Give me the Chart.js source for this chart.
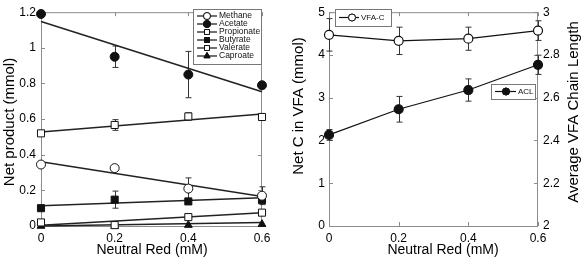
<!DOCTYPE html>
<html>
<head>
<meta charset="utf-8">
<title>Neutral Red</title>
<script src="https://cdn.jsdelivr.net/npm/chart.js"></script>
<style>
    body { margin: 0; padding: 0; background: #fff; }
    #wrap { position: relative; width: 581px; height: 261px; }
    #left { position: absolute; left: 0; top: 0; width: 290px; height: 261px; }
    #right { position: absolute; left: 290px; top: 0; width: 291px; height: 261px; }
</style>
</head>
<body>
<div id="wrap">
    <div id="left"><canvas id="c1"></canvas></div>
    <div id="right"><canvas id="c2"></canvas></div>
</div>
<script>
    const FONT = "'Liberation Sans', Arial, Helvetica, sans-serif";

    // data
    const doses = [0, 0.2, 0.4, 0.6];
    const fitX = [0, 0.6];

    const methane = [0.345, 0.325, 0.21, 0.17];
    const methaneErr = [0, 0.012, 0.06, 0.05];
    const methaneFit = [0.36, 0.165];
    const acetate = [1.19, 0.95, 0.85, 0.79];
    const acetateErr = [0, 0.06, 0.13, 0];
    const acetateFit = [1.148, 0.754];
    const propionate = [0.52, 0.567, 0.615, 0.612];
    const propionateErr = [0, 0.03, 0.02, 0.01];
    const propionateFit = [0.527, 0.628];
    const butyrate = [0.10, 0.148, 0.138, 0.145];
    const butyrateErr = [0, 0.048, 0, 0.01];
    const butyrateFit = [0.113, 0.158];
    const valerate = [0.02, 0.005, 0.05, 0.075];
    const valerateFit = [0.004, 0.075];
    const caproate = [0, 0, 0.005, 0.01];
    const caproateFit = [0, 0.02];

    const vfaC = [4.47, 4.33, 4.38, 4.57];
    const vfaCErr = [0.38, 0.32, 0.27, 0.23];
    const acl = [2.426, 2.546, 2.636, 2.754];
    const aclErr = [0.025, 0.06, 0.052, 0.045];

    const xTicks = [0, 0.2, 0.4, 0.6];
    const productTicks = [0, 0.2, 0.4, 0.6, 0.8, 1, 1.2];
    const carbonTicks = [0, 1, 2, 3, 4, 5];
    const chainTicks = [2, 2.2, 2.4, 2.6, 2.8, 3];

    function pts(vals) { return doses.map((x, i) => ({ x: x, y: vals[i] })); }
    function fitPts(vals) { return fitX.map((x, i) => ({ x: x, y: vals[i] })); }
    function setTicks(list) { return s => { s.ticks = list.map(v => ({ value: v })); }; }

    function markerSet(label, vals, errs, style, filled, r) {
        return {
            label: label, data: pts(vals), errs: errs,
            showLine: false, pointStyle: style, pointRadius: r,
            backgroundColor: filled ? '#111' : '#fff', borderColor: '#111',
            borderWidth: 1, clip: false, order: 0
        };
    }
    function fitSet(vals) {
        return {
            label: '', data: fitPts(vals), showLine: true, pointRadius: 0,
            borderColor: '#222', borderWidth: 1.5, clip: false, order: 1, noLegend: true
        };
    }

    // frame, inward ticks, error bars, legend boxes and titles
    const decor = {
        id: 'decor',
        beforeDatasetsDraw(chart, args, opts) {
            const ctx = chart.ctx, a = chart.chartArea;
            ctx.save();
            ctx.strokeStyle = '#8c8c8c';
            ctx.lineWidth = 1;
            ctx.strokeRect(a.left + 0.5, a.top + 0.5, a.right - a.left - 1, a.bottom - a.top);
            ctx.beginPath();
            chart.scales.x.ticks.forEach(t => {
                const px = Math.round(chart.scales.x.getPixelForValue(t.value)) + 0.5;
                ctx.moveTo(px, a.bottom); ctx.lineTo(px, a.bottom - 4);
                ctx.moveTo(px, a.top); ctx.lineTo(px, a.top + 4);
            });
            const yl = chart.scales.y, yr = chart.scales[opts.rightAxis || 'y'];
            yl.ticks.forEach(t => {
                const py = Math.round(yl.getPixelForValue(t.value)) + 0.5;
                ctx.moveTo(a.left, py); ctx.lineTo(a.left + 4, py);
            });
            yr.ticks.forEach(t => {
                const py = Math.round(yr.getPixelForValue(t.value)) + 0.5;
                ctx.moveTo(a.right, py); ctx.lineTo(a.right - 4, py);
            });
            ctx.stroke();

            ctx.strokeStyle = '#333';
            chart.data.datasets.forEach((ds, di) => {
                if (!ds.errs) return;
                const meta = chart.getDatasetMeta(di);
                const ys = chart.scales[meta.yAxisID];
                meta.data.forEach((p, i) => {
                    const e = ds.errs[i];
                    if (!e) return;
                    const v = ds.data[i].y;
                    const y1 = ys.getPixelForValue(v + e), y2 = ys.getPixelForValue(v - e);
                    const x = Math.round(p.x) + 0.5;
                    ctx.beginPath();
                    ctx.moveTo(x, y1); ctx.lineTo(x, y2);
                    ctx.moveTo(x - 3, y1); ctx.lineTo(x + 3, y1);
                    ctx.moveTo(x - 3, y2); ctx.lineTo(x + 3, y2);
                    ctx.stroke();
                });
            });
            ctx.restore();
        },
        afterDatasetsDraw(chart, args, opts) {
            const ctx = chart.ctx;
            ctx.save();
            (opts.boxes || []).forEach(b => {
                ctx.fillStyle = '#fff';
                ctx.fillRect(b.x0, b.y0, b.x1 - b.x0, b.y1 - b.y0);
                ctx.strokeStyle = '#777';
                ctx.lineWidth = 1;
                ctx.strokeRect(b.x0 + 0.5, b.y0 + 0.5, b.x1 - b.x0, b.y1 - b.y0);
                b.items.forEach((di, k) => {
                    const ds = chart.data.datasets[di];
                    const y = b.rowY + k * b.step;
                    ctx.strokeStyle = '#111';
                    ctx.lineWidth = 1.2;
                    ctx.beginPath();
                    ctx.moveTo(b.lx0, y); ctx.lineTo(b.lx1, y);
                    ctx.stroke();
                    ctx.lineWidth = 1;
                    ctx.fillStyle = ds.backgroundColor;
                    Chart.helpers.drawPoint(ctx, { pointStyle: ds.pointStyle, radius: b.r, borderWidth: 1 }, b.mx, y);
                    ctx.fill();
                    ctx.stroke();
                    ctx.fillStyle = '#111';
                    ctx.font = b.font + 'px ' + FONT;
                    ctx.textBaseline = 'middle';
                    ctx.textAlign = 'left';
                    ctx.fillText(ds.label, b.tx, y);
                });
            });
            ctx.fillStyle = '#000';
            (opts.titles || []).forEach(t => {
                ctx.save();
                ctx.translate(t.x, t.y);
                ctx.rotate(t.rot || 0);
                ctx.font = t.size + 'px ' + FONT;
                ctx.textAlign = 'center';
                ctx.textBaseline = 'middle';
                ctx.fillText(t.text, 0, 0);
                ctx.restore();
            });
            ctx.restore();
        }
    };

    function xScale() {
        return {
            type: 'linear', min: 0, max: 0.6,
            afterBuildTicks: setTicks(xTicks),
            afterFit: s => { s.height = 35; },
            grid: { display: false, drawTicks: false }, border: { display: false },
            ticks: { color: '#000', padding: 5, maxRotation: 0, font: { family: FONT, size: 12 }, callback: v => String(v) }
        };
    }
    function yScale(min, max, list, width, pos, pad) {
        return {
            type: 'linear', min: min, max: max, position: pos,
            afterBuildTicks: setTicks(list),
            afterFit: s => { s.width = width; },
            grid: { display: false, drawTicks: false }, border: { display: false },
            ticks: { color: '#000', padding: pad, font: { family: FONT, size: 12 }, callback: v => String(v) }
        };
    }

    new Chart(document.getElementById('c1'), {
        type: 'scatter',
        data: {
            datasets: [
                markerSet('Methane', methane, methaneErr, 'circle', false, 4.5),
                markerSet('Acetate', acetate, acetateErr, 'circle', true, 4.5),
                markerSet('Propionate', propionate, propionateErr, 'rect', false, 5),
                markerSet('Butyrate', butyrate, butyrateErr, 'rect', true, 5),
                markerSet('Valerate', valerate, null, 'rect', false, 5),
                markerSet('Caproate', caproate, null, 'triangle', true, 4.5),
                fitSet(methaneFit), fitSet(acetateFit), fitSet(propionateFit),
                fitSet(butyrateFit), fitSet(valerateFit), fitSet(caproateFit)
            ]
        },
        options: {
            responsive: true, maintainAspectRatio: false, animation: false, events: [],
            layout: { padding: { top: 7, right: 28, left: 0, bottom: 0 } },
            scales: { x: xScale(), y: yScale(0, 1.2, productTicks, 41, 'left', 5) },
            plugins: {
                legend: { display: false }, tooltip: { enabled: false },
                decor: {
                    boxes: [{ x0: 193, y0: 9, x1: 261, y1: 64, rowY: 16, step: 8, lx0: 197, lx1: 217, mx: 207, r: 3.5, tx: 219, font: 8.5, items: [0, 1, 2, 3, 4, 5] }],
                    titles: [
                        { text: 'Net product (mmol)', x: 10, y: 122, rot: -Math.PI / 2, size: 15 },
                        { text: 'Neutral Red (mM)', x: 152, y: 250, size: 14 }
                    ]
                }
            }
        },
        plugins: [decor]
    });

    new Chart(document.getElementById('c2'), {
        type: 'scatter',
        data: {
            datasets: [
                Object.assign(markerSet('VFA-C', vfaC, vfaCErr, 'circle', false, 4.5), { showLine: true, borderWidth: 1.2, yAxisID: 'y' }),
                Object.assign(markerSet('ACL', acl, aclErr, 'circle', true, 4.5), { showLine: true, borderWidth: 1.2, yAxisID: 'y2' })
            ]
        },
        options: {
            responsive: true, maintainAspectRatio: false, animation: false, events: [],
            layout: { padding: { top: 7, right: 0, left: 0, bottom: 0 } },
            scales: {
                x: xScale(),
                y: yScale(0, 5, carbonTicks, 39, 'left', 4),
                y2: yScale(2, 3, chainTicks, 43, 'right', 5)
            },
            plugins: {
                legend: { display: false }, tooltip: { enabled: false },
                decor: {
                    rightAxis: 'y2',
                    boxes: [
                        { x0: 45, y0: 9, x1: 101, y1: 26, rowY: 17.5, step: 0, lx0: 49, lx1: 69, mx: 62, r: 3.5, tx: 71, font: 8, items: [0] },
                        { x0: 201, y0: 84, x1: 245, y1: 99, rowY: 91.5, step: 0, lx0: 205, lx1: 226, mx: 216, r: 3.5, tx: 228, font: 8, items: [1] }
                    ],
                    titles: [
                        { text: 'Net C in VFA (mmol)', x: 9, y: 106, rot: -Math.PI / 2, size: 15 },
                        { text: 'Average VFA Chain Length', x: 284, y: 112, rot: -Math.PI / 2, size: 15 },
                        { text: 'Neutral Red (mM)', x: 153, y: 250, size: 14 }
                    ]
                }
            }
        },
        plugins: [decor]
    });
</script>
</body>
</html>
